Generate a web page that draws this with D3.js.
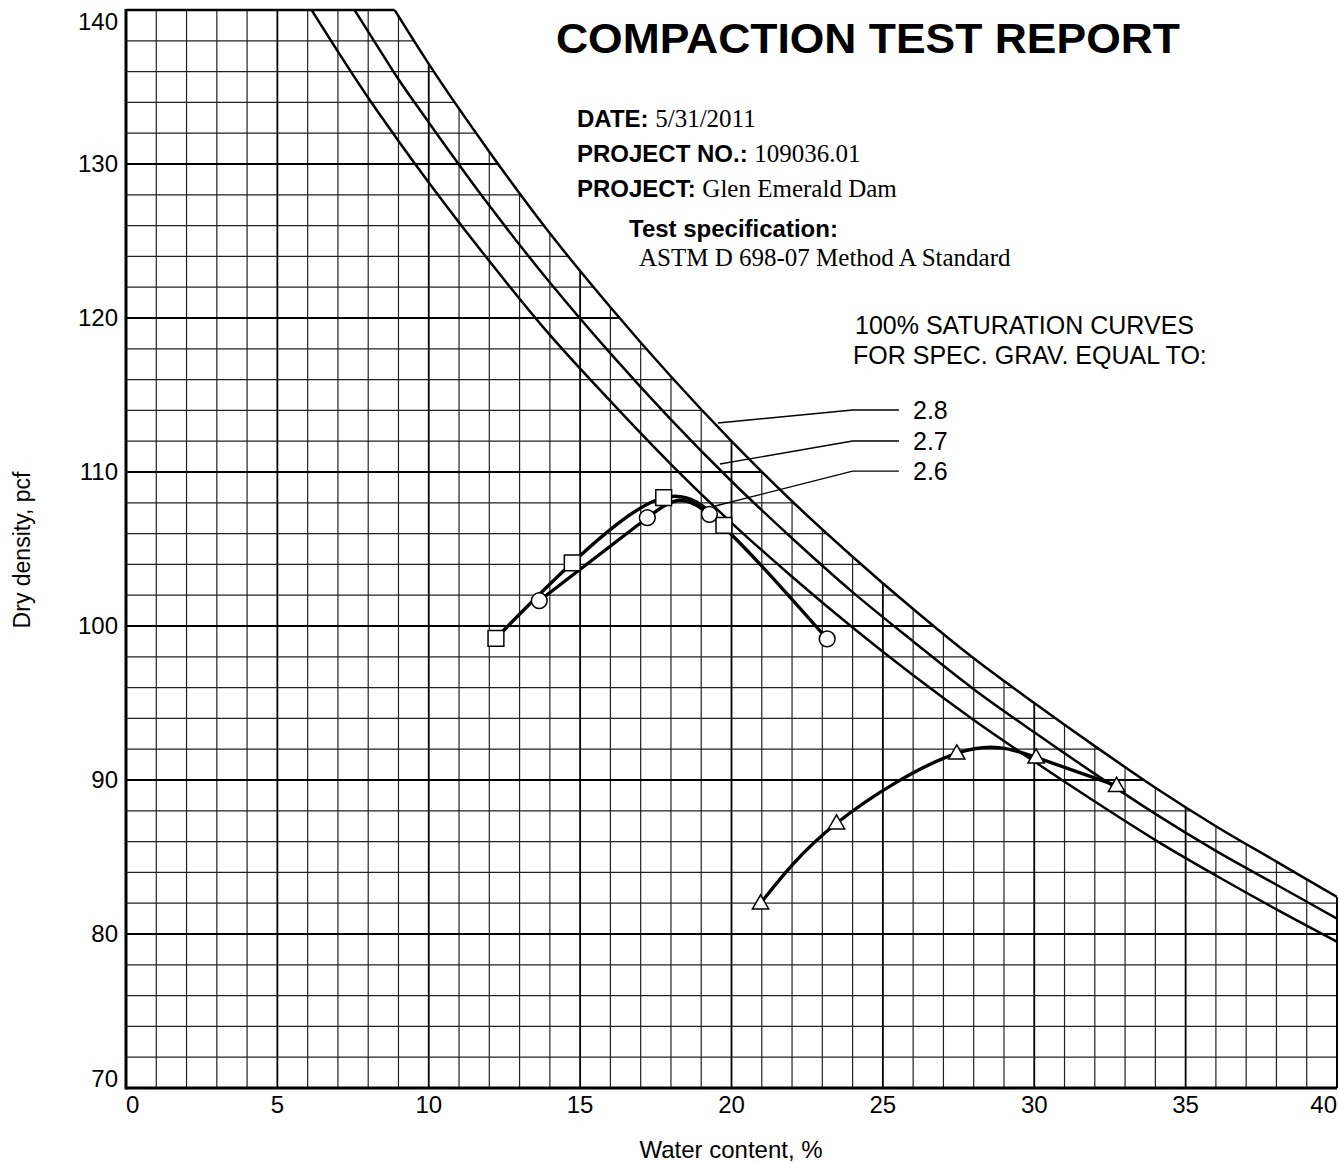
<!DOCTYPE html>
<html>
<head>
<meta charset="utf-8">
<script src="https://cdn.jsdelivr.net/npm/d3@7"></script>
<style>
  body { margin: 0; background: #fff; }
  text { font-family: "Liberation Sans", Arial, sans-serif; fill: #000; }
  .serif { font-family: "Liberation Serif", "Times New Roman", serif; }
</style>
</head>
<body>
<svg id="chart" width="1339" height="1163"></svg>
<script>
// 100% saturation curves (water content %, dry density pcf)
const sat28W = [8, 9, 10, 12, 14, 16, 18, 20, 22, 24, 26, 28, 30, 32, 34, 36, 38, 40];
const sat28D = [142.8, 139.6, 136.5, 130.8, 125.5, 120.7, 116.2, 112.0, 108.1, 104.5, 101.1, 97.9, 95.0, 92.2, 89.5, 87.0, 84.7, 82.4];
const sat27W = [7, 8, 9, 10, 12, 14, 16, 18, 20, 22, 24, 26, 28, 30, 32, 34, 36, 38, 40];
const sat27D = [141.7, 138.6, 135.5, 132.7, 127.3, 122.3, 117.7, 113.4, 109.4, 105.7, 102.2, 99.0, 95.9, 93.1, 90.4, 87.8, 85.4, 83.2, 81.0];
const sat26W = [5, 6, 7, 8, 9, 10, 12, 14, 16, 18, 20, 22, 24, 26, 28, 30, 32, 34, 36, 38, 40];
const sat26D = [143.6, 140.4, 137.3, 134.3, 131.5, 128.8, 123.7, 118.9, 114.6, 110.5, 106.7, 103.2, 99.9, 96.8, 93.9, 91.2, 88.6, 86.1, 83.8, 81.6, 79.5];

// test points
const squareW = [12.22, 14.74, 17.76, 19.75];
const squareD = [99.2, 104.1, 108.33, 106.54];
const circleW = [13.65, 17.22, 19.27, 23.16];
const circleD = [101.64, 107.03, 107.25, 99.16];
const triW = [20.96, 23.47, 27.44, 30.06, 32.72];
const triD = [82.0, 87.19, 91.73, 91.47, 89.63];

// leader lines from the curve labels (data units)
const satLabels = ["2.8", "2.7", "2.6"];
const leaderW = [[19.55, 24.0, 25.53], [19.62, 24.0, 25.53], [19.46, 24.0, 25.53]];
const leaderD = [[113.18, 114.03, 114.03], [110.52, 112.01, 112.01], [107.79, 110.06, 110.06]];

const xTicks = [0, 5, 10, 15, 20, 25, 30, 35, 40];
const yTicks = [70, 80, 90, 100, 110, 120, 130, 140];

const svg = d3.select("#chart");
const x = d3.scaleLinear().domain([0, 40]).range([126, 1337]);
const y = d3.scaleLinear().domain([70, 140]).range([1088, 10]);

const zip = (ws, ds) => ws.map((w, i) => ({ w: w, d: ds[i] }));
const sat28 = zip(sat28W, sat28D);
const satCurves = [sat28, zip(sat27W, sat27D), zip(sat26W, sat26D)];

const satLine = d3.line().x(d => x(d.w)).y(d => y(d.d)).curve(d3.curveMonotoneX);
const fitLine = d3.line().x(d => x(d.w)).y(d => y(d.d)).curve(d3.curveNatural);

const defs = svg.append("defs");
defs.append("clipPath").attr("id", "plotClip")
  .append("rect").attr("x", x(0)).attr("y", y(140))
  .attr("width", x(40) - x(0)).attr("height", y(70) - y(140));
// region under the 2.8 curve (left of its first point is all below it)
const under = defs.append("clipPath").attr("id", "underClip");
under.append("path")
  .attr("d", d3.area().x(d => x(d.w)).y0(y(70)).y1(d => y(d.d)).curve(d3.curveMonotoneX)(sat28));
under.append("rect").attr("x", x(0) - 2).attr("y", y(140) - 2)
  .attr("width", x(sat28W[0]) - x(0) + 3).attr("height", y(70) - y(140) + 4);

// grid only under the 2.8 curve
const gridOuter = svg.append("g").attr("clip-path", "url(#plotClip)");
const grid = gridOuter.append("g").attr("clip-path", "url(#underClip)");
d3.range(1, 40).forEach(v => {
  const major = v % 5 === 0;
  grid.append("line")
    .attr("x1", x(v)).attr("x2", x(v)).attr("y1", y(70)).attr("y2", y(140))
    .attr("stroke", major ? "#000" : "#222").attr("stroke-width", major ? 1.8 : 1.2);
});
d3.range(72, 140, 2).forEach(v => {
  const major = v % 10 === 0;
  grid.append("line")
    .attr("x1", x(0)).attr("x2", x(40)).attr("y1", y(v)).attr("y2", y(v))
    .attr("stroke", major ? "#000" : "#222").attr("stroke-width", major ? 1.8 : 1.2);
});

// saturation curves
const satG = svg.append("g").attr("clip-path", "url(#plotClip)");
const satPaths = satCurves.map(c => satG.append("path")
  .attr("d", satLine(c)).attr("fill", "none")
  .attr("stroke", "#000").attr("stroke-width", 2.5));

// frame: top edge stops at the 2.8 curve, right edge stops below it
const p28 = satPaths[0].node();
const total = p28.getTotalLength();
let lo = 0, hi = total;
for (let i = 0; i < 40; i++) {
  const mid = (lo + hi) / 2;
  if (p28.getPointAtLength(mid).y < y(140)) lo = mid; else hi = mid;
}
const topEnd = p28.getPointAtLength(hi).x;
const frame = svg.append("g").attr("stroke", "#000").attr("fill", "none");
frame.append("line").attr("x1", x(0)).attr("x2", x(0)).attr("y1", y(140) - 1).attr("y2", y(70) + 1.5).attr("stroke-width", 3);
frame.append("line").attr("x1", x(0)).attr("x2", x(40)).attr("y1", y(70)).attr("y2", y(70)).attr("stroke-width", 3);
frame.append("line").attr("x1", x(0)).attr("x2", topEnd).attr("y1", y(140)).attr("y2", y(140)).attr("stroke-width", 2.5);
frame.append("line").attr("x1", x(40)).attr("x2", x(40)).attr("y1", y(70)).attr("y2", y(sat28D[sat28D.length - 1])).attr("stroke-width", 2);

// fitted compaction curves
[zip(squareW, squareD), zip(circleW, circleD), zip(triW, triD)].forEach(c => {
  svg.append("path").attr("d", fitLine(c)).attr("fill", "none")
    .attr("stroke", "#000").attr("stroke-width", 3.4);
});

// markers
const sym = (type, size) => d3.symbol().type(type).size(size)();
const marks = svg.append("g").attr("fill", "#fff").attr("stroke", "#000").attr("stroke-width", 1.5);
zip(squareW, squareD).forEach(d => marks.append("path").attr("d", sym(d3.symbolSquare, 250))
  .attr("transform", `translate(${x(d.w)},${y(d.d)})`));
zip(circleW, circleD).forEach(d => marks.append("path").attr("d", sym(d3.symbolCircle, 195))
  .attr("transform", `translate(${x(d.w)},${y(d.d)})`));
zip(triW, triD).forEach(d => marks.append("path").attr("d", sym(d3.symbolTriangle, 115))
  .attr("transform", `translate(${x(d.w)},${y(d.d) + 1})`));

// leaders and curve labels
satLabels.forEach((lab, i) => {
  const pts = zip(leaderW[i], leaderD[i]);
  svg.append("path").attr("d", d3.line().x(d => x(d.w)).y(d => y(d.d))(pts))
    .attr("fill", "none").attr("stroke", "#000").attr("stroke-width", 1.4);
  svg.append("text").attr("x", 913).attr("y", y(leaderD[i][2]) + 9)
    .attr("font-size", 25).text(lab);
});

// tick labels (end labels pulled inward as in the original)
xTicks.forEach((t, i) => {
  const last = xTicks.length - 1;
  svg.append("text").attr("x", x(t))
    .attr("y", 1113).attr("font-size", 24)
    .attr("text-anchor", i === 0 ? "start" : (i === last ? "end" : "middle"))
    .text(t);
});
yTicks.forEach((t, i) => {
  let yy = y(t) + 8;
  if (i === 0) yy = y(t) - 1;
  if (i === yTicks.length - 1) yy = y(t) + 20;
  svg.append("text").attr("x", 118).attr("y", yy).attr("font-size", 24)
    .attr("text-anchor", "end").text(t);
});

// axis titles
svg.append("text").attr("x", 731).attr("y", 1158).attr("font-size", 24)
  .attr("text-anchor", "middle").text("Water content, %");
svg.append("text").attr("transform", "translate(30,550) rotate(-90)")
  .attr("font-size", 23).attr("text-anchor", "middle").text("Dry density, pcf");

// report header
svg.append("text").attr("x", 556).attr("y", 53).attr("font-size", 42).attr("font-weight", "bold")
  .attr("textLength", 624).attr("lengthAdjust", "spacingAndGlyphs").text("COMPACTION TEST REPORT");

const info = [["DATE: ", "5/31/2011", 127], ["PROJECT NO.: ", "109036.01", 162], ["PROJECT: ", "Glen Emerald Dam", 197]];
info.forEach(r => {
  const t = svg.append("text").attr("x", 577).attr("y", r[2]);
  t.append("tspan").attr("font-size", 24).attr("font-weight", "bold").text(r[0]);
  t.append("tspan").attr("class", "serif").attr("font-size", 25).text(r[1]);
});
svg.append("text").attr("x", 629).attr("y", 237).attr("font-size", 24).attr("font-weight", "bold")
  .text("Test specification:");
svg.append("text").attr("class", "serif").attr("x", 639).attr("y", 266).attr("font-size", 25)
  .text("ASTM D 698-07 Method A Standard");

svg.append("text").attr("x", 855).attr("y", 334).attr("font-size", 25).text("100% SATURATION CURVES");
svg.append("text").attr("x", 853).attr("y", 364).attr("font-size", 25).text("FOR SPEC. GRAV. EQUAL TO:");
</script>
</body>
</html>
